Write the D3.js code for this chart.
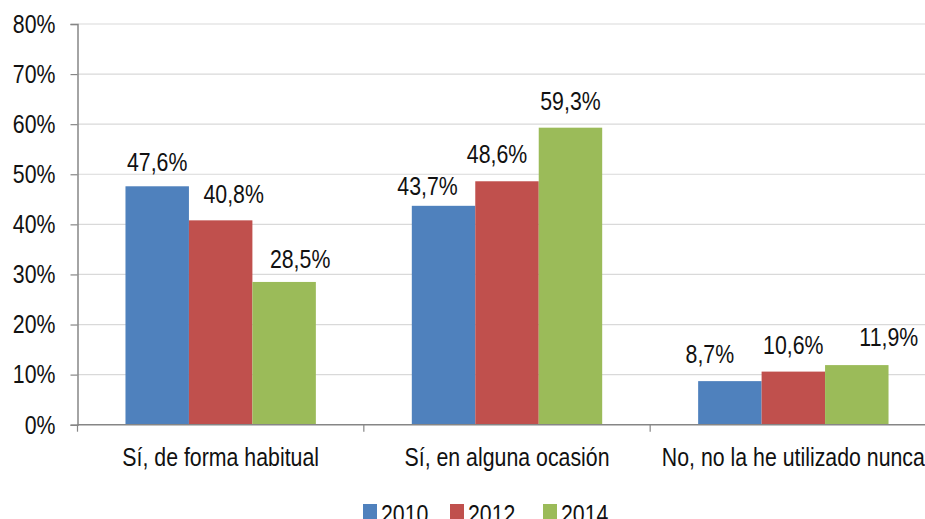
<!DOCTYPE html>
<html>
<head>
<meta charset="utf-8">
<script src="https://cdn.jsdelivr.net/npm/d3@7"></script>
<style>
  html, body { margin: 0; padding: 0; background: #fff; overflow: hidden; }
  svg text { font-family: "Liberation Sans", Arial, sans-serif; fill: #111; font-size: 26px; }
</style>
</head>
<body>
<div id="chart"></div>
<script>
// Data
var categories = ["Sí, de forma habitual", "Sí, en alguna ocasión", "No, no la he utilizado nunca"];
var years = ["2010", "2012", "2014"];
var values2010 = [47.6, 43.7, 8.7];
var values2012 = [40.8, 48.6, 10.6];
var values2014 = [28.5, 59.3, 11.9];
var yTicks = [0, 10, 20, 30, 40, 50, 60, 70, 80];

var seriesValues = [values2010, values2012, values2014];
var colors = ["#4F81BD", "#C0504D", "#9BBB59"];

// label nudges by series, then category (labels were moved by hand in the original)
var labelDx = [[0, -16, -20], [13, -10, 0], [16, 0, 32]];
var labelDy = [[1, 5, -2], [-1, -2, -2], [2, -2, -3]];

var svgWidth = 925, svgHeight = 519;
var plot = { left: 77.5, right: 936.5, top: 24, bottom: 424.7 };

// Liberation Sans squeezed to look like Arial Narrow
var squeeze = 0.82;
function narrow(sel) {
  sel.each(function() {
    var t = d3.select(this);
    var x = +t.attr("x") || 0, y = +t.attr("y") || 0;
    t.attr("x", 0).attr("y", 0)
      .attr("transform", `translate(${x}, ${y}) scale(${squeeze}, 1)`);
  });
}

var svg = d3.select("#chart")
  .append("svg")
  .attr("width", svgWidth)
  .attr("height", svgHeight);

var x0 = d3.scaleBand()
  .domain(categories)
  .range([plot.left, plot.right])
  .padding(0);

var x1 = d3.scaleBand()
  .domain(years)
  .range([0, x0.bandwidth()])
  .paddingInner(0)
  .paddingOuter(0.756);

var y = d3.scaleLinear()
  .domain([0, 80])
  .range([plot.bottom, plot.top]);

// gridlines
svg.append("g")
  .selectAll("line")
  .data(yTicks.filter(d => d > 0))
  .enter()
  .append("line")
  .attr("x1", plot.left)
  .attr("x2", svgWidth)
  .attr("y1", d => y(d))
  .attr("y2", d => y(d))
  .attr("stroke", "#d9d9d9")
  .attr("stroke-width", 1.2);

// y axis
var leftAxis = d3.axisLeft(y)
  .tickValues(yTicks)
  .tickFormat(d => d + "%")
  .tickSize(7)
  .tickPadding(15);

var yAxisG = svg.append("g")
  .attr("transform", `translate(${plot.left}, 0)`)
  .call(leftAxis);
yAxisG.select(".domain").attr("stroke", "#868686").attr("stroke-width", 1.5);
yAxisG.selectAll(".tick line").attr("stroke", "#868686").attr("stroke-width", 1.2);
yAxisG.selectAll(".tick text")
  .style("font-size", "26px")
  .attr("font-family", null)
  .attr("fill", "#111")
  .call(narrow);

// bars
var groups = svg.append("g")
  .selectAll("g")
  .data(categories)
  .enter()
  .append("g")
  .attr("transform", d => `translate(${x0(d)}, 0)`);

function cells(d, i) {
  return years.map((yr, j) => ({ year: yr, value: seriesValues[j][i], cat: i, s: j }));
}

groups.selectAll("rect")
  .data(cells)
  .enter()
  .append("rect")
  .attr("x", d => x1(d.year))
  .attr("width", x1.bandwidth())
  .attr("y", d => y(d.value))
  .attr("height", d => y(0) - y(d.value))
  .attr("fill", d => colors[d.s]);

// data labels
groups.selectAll("text.lbl")
  .data(cells)
  .enter()
  .append("text")
  .attr("class", "lbl")
  .attr("x", d => x1(d.year) + x1.bandwidth() / 2 + labelDx[d.s][d.cat])
  .attr("y", d => y(d.value) - 16 + labelDy[d.s][d.cat])
  .attr("text-anchor", "middle")
  .text(d => d.value.toFixed(1).replace(".", ",") + "%")
  .call(narrow);

// x axis
var xAxisG = svg.append("g");
xAxisG.append("line")
  .attr("x1", plot.left)
  .attr("x2", svgWidth)
  .attr("y1", y(0))
  .attr("y2", y(0))
  .attr("stroke", "#868686")
  .attr("stroke-width", 1.5);

xAxisG.selectAll("line.tk")
  .data(categories.concat(["end"]))
  .enter()
  .append("line")
  .attr("class", "tk")
  .attr("x1", (d, i) => plot.left + i * x0.bandwidth())
  .attr("x2", (d, i) => plot.left + i * x0.bandwidth())
  .attr("y1", y(0))
  .attr("y2", y(0) + 7)
  .attr("stroke", "#868686")
  .attr("stroke-width", 1.2);

xAxisG.selectAll("text")
  .data(categories)
  .enter()
  .append("text")
  .attr("x", d => x0(d) + x0.bandwidth() / 2)
  .attr("y", 466)
  .attr("text-anchor", "middle")
  .text(d => d)
  .call(narrow);

// legend
var legendX = [363, 450, 543];
var legend = svg.append("g")
  .selectAll("g")
  .data(years)
  .enter()
  .append("g")
  .attr("transform", (d, i) => `translate(${legendX[i]}, 504)`);

legend.append("rect")
  .attr("width", 14)
  .attr("height", 15)
  .attr("fill", (d, i) => colors[i]);

legend.append("text")
  .attr("x", 18)
  .attr("y", 18.5)
  .text(d => d)
  .call(narrow);
</script>
</body>
</html>
